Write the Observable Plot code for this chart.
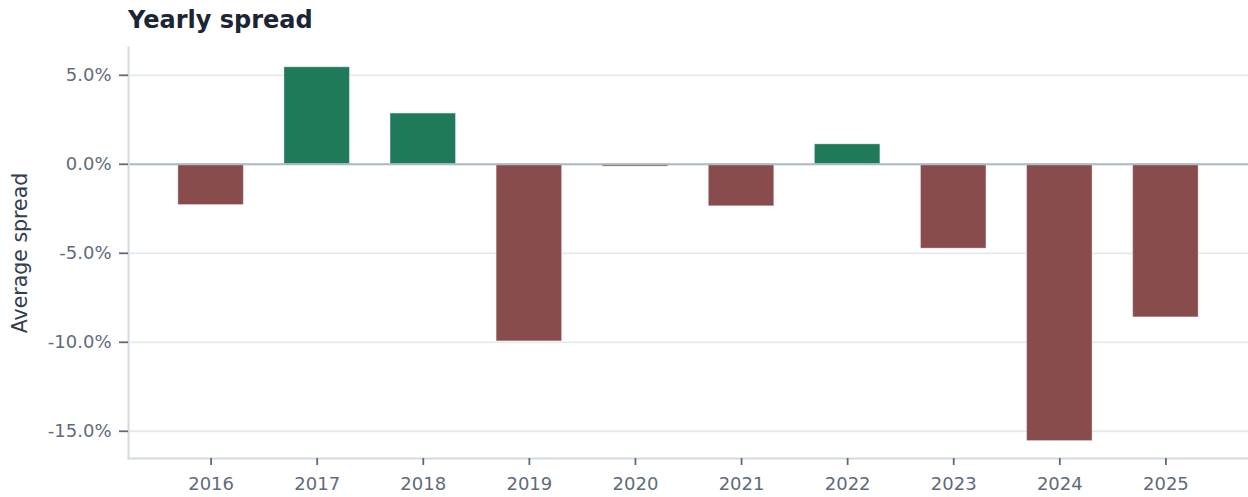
<!DOCTYPE html>
<html>
<head>
<meta charset="utf-8">
<script src="https://cdn.jsdelivr.net/npm/d3@7"></script>
<script src="https://cdn.jsdelivr.net/npm/@observablehq/plot@0.6"></script>
<style>
  html, body { margin: 0; padding: 0; background: #fff; }
  #wrap { width: 1248px; height: 497px; position: relative; overflow: hidden; font-family: "DejaVu Sans", sans-serif; }
  #title { position: absolute; left: 128px; top: 4px; font-size: 24px; font-weight: bold; color: #1b2535; line-height: 32px; margin: 0; }
  #chart { position: absolute; left: 0; top: 40px; }
</style>
</head>
<body>
<div id="wrap">
  <h2 id="title">Yearly spread</h2>
  <div id="chart"></div>
</div>
<script>
const years = ["2016","2017","2018","2019","2020","2021","2022","2023","2024","2025"];
const spreads = [-2.29, 5.45, 2.85, -9.95, -0.13, -2.36, 1.12, -4.74, -15.55, -8.60];
const yTicks = [-15, -10, -5, 0, 5];
const yLabel = "Average spread";
const posColor = "#1f7a5a";
const negColor = "#884c4c";

const data = years.map((year, i) => ({year, value: spreads[i]}));
const fmt = d => d.toFixed(1) + "%";
const yMin = d3.min(spreads) * 1.063;
const yMax = d3.max(spreads) * 1.204;

const chart = Plot.plot({
  width: 1248,
  height: 457,
  marginTop: 7,
  marginBottom: 39,
  marginLeft: 128,
  marginRight: 0,
  style: {fontFamily: "DejaVu Sans", fontSize: "18px", color: "#5f6b7a", background: "#fff"},
  x: {domain: years, paddingInner: 0.383, paddingOuter: 0.47, round: false},
  y: {domain: [yMin, yMax]},
  marks: [
    Plot.gridY(yTicks, {stroke: "#e3e9ee", strokeOpacity: 1, strokeWidth: 1.8}),
    Plot.barY(data, {x: "year", y: "value", fill: d => d.value >= 0 ? posColor : negColor, stroke: "#ffffff", strokeOpacity: 0.35, strokeWidth: 1}),
    Plot.ruleY([0], {stroke: "#adbac4", strokeWidth: 2}),
    Plot.frame({anchor: "left", stroke: "#d2dae0", strokeWidth: 2}),
    Plot.frame({anchor: "bottom", stroke: "#d2dae0", strokeWidth: 2}),
    Plot.axisY(yTicks, {tickFormat: fmt, tickSize: 9, tickPadding: 8, stroke: "#5d6b79", strokeWidth: 1.8, fill: "#5f6b7a",
      label: yLabel, labelAnchor: "center", labelArrow: "none", labelOffset: 116}),
    Plot.axisX({tickSize: 7, tickPadding: 12, stroke: "#5d6b79", strokeWidth: 1.8, fill: "#5f6b7a", label: null})
  ]
});
document.getElementById("chart").appendChild(chart);
chart.querySelectorAll("text").forEach(t => {
  if (t.textContent === yLabel) { t.setAttribute("fill", "#333d4b"); t.style.fontSize = "20.5px"; }
});
</script>
</body>
</html>
